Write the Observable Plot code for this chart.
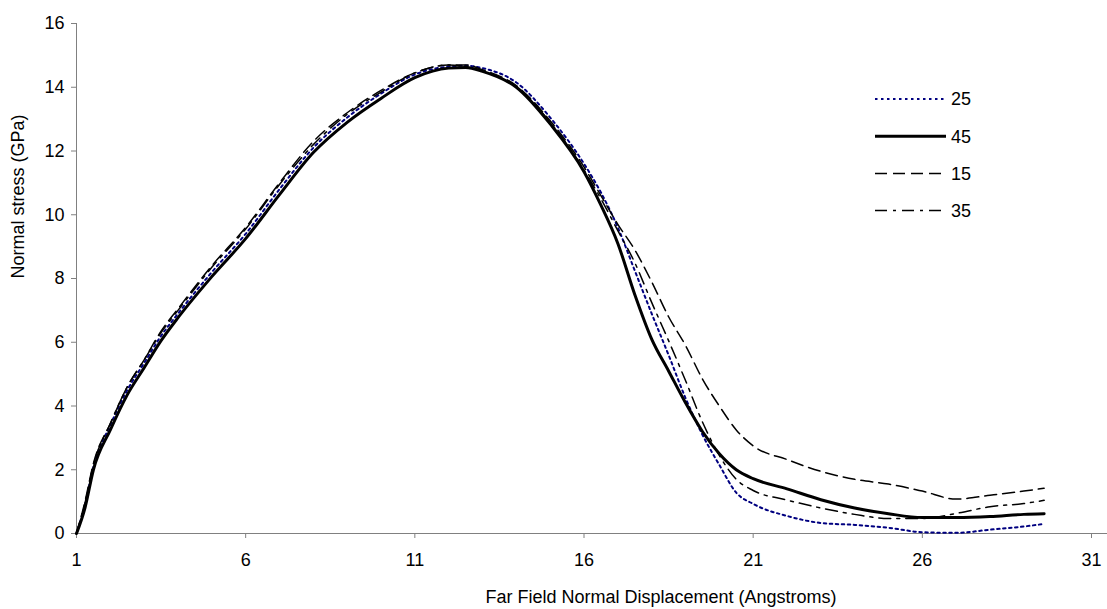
<!DOCTYPE html>
<html>
<head>
<meta charset="utf-8">
<script src="https://cdn.jsdelivr.net/npm/d3@7"></script>
<script src="https://cdn.jsdelivr.net/npm/@observablehq/plot@0.6"></script>
<style>
  html, body { margin: 0; padding: 0; background: white; }
  #wrap { position: relative; width: 1107px; height: 609px; font-family: "Liberation Sans", Arial, sans-serif; }
  #legend { position: absolute; left: 0; top: 0; }
</style>
</head>
<body>
<div id="wrap"></div>
<script>
// Far field normal displacement (Angstroms)
const disp = [1, 1.25, 1.5, 2, 2.5, 3, 3.5, 4, 5, 6, 7, 8, 9, 10, 11, 12, 12.5, 13, 14, 15, 16, 16.5, 17, 17.5, 18, 18.5, 19, 19.5, 20, 20.5, 21, 22, 23, 24, 25, 26, 27, 28, 29, 29.6];
// Normal stress (GPa) per series
const s25 = [0, 0.9, 2.1, 3.4, 4.5, 5.35, 6.2, 6.9, 8.2, 9.4, 10.8, 12.1, 13.05, 13.8, 14.4, 14.65, 14.68, 14.6, 14.15, 13.05, 11.6, 10.7, 9.6, 8.25, 6.9, 5.6, 4.25, 3.1, 2.15, 1.28, 0.93, 0.55, 0.33, 0.27, 0.18, 0.04, 0.02, 0.12, 0.22, 0.3];
const s45 = [0, 0.8, 2.0, 3.25, 4.35, 5.2, 6.05, 6.77, 8.06, 9.25, 10.63, 11.95, 12.9, 13.65, 14.3, 14.6, 14.62, 14.5, 14.0, 12.85, 11.35, 10.3, 9.1, 7.5, 6.1, 5.1, 4.1, 3.2, 2.5, 2.0, 1.72, 1.4, 1.06, 0.8, 0.62, 0.5, 0.5, 0.53, 0.6, 0.62];
const s15 = [0, 1.0, 2.2, 3.45, 4.6, 5.45, 6.35, 7.05, 8.4, 9.6, 11.0, 12.3, 13.2, 13.9, 14.45, 14.7, 14.7, 14.55, 14.05, 12.95, 11.5, 10.6, 9.7, 8.9, 7.9, 6.8, 5.9, 4.85, 4.0, 3.25, 2.75, 2.32, 1.95, 1.7, 1.55, 1.33, 1.08, 1.2, 1.33, 1.42];
const s35 = [0, 0.95, 2.15, 3.45, 4.6, 5.45, 6.3, 7.0, 8.35, 9.55, 10.95, 12.2, 13.15, 13.85, 14.45, 14.7, 14.65, 14.5, 14.0, 12.9, 11.4, 10.5, 9.5, 8.5, 7.25, 6.05, 4.8, 3.5, 2.45, 1.7, 1.35, 1.05, 0.8, 0.6, 0.47, 0.47, 0.63, 0.84, 0.94, 1.04];

const seriesNames = ["25", "45", "15", "35"];
const seriesValues = [s25, s45, s15, s35];
const xTicks = [1, 6, 11, 16, 21, 26, 31];
const yTicks = [0, 2, 4, 6, 8, 10, 12, 14, 16];

const FONT = "'Liberation Sans', Arial, sans-serif";
const styles = {
  "25": {stroke: "#000080", strokeWidth: 2, strokeDasharray: "2.5,3.5"},
  "45": {stroke: "black", strokeWidth: 3, strokeDasharray: null},
  "15": {stroke: "black", strokeWidth: 1.5, strokeDasharray: "12,6"},
  "35": {stroke: "black", strokeWidth: 1.5, strokeDasharray: "12,6,3,6"}
};

const tables = seriesNames.map((name, i) => disp.map((x, j) => ({x, y: seriesValues[i][j], name})));

const lineMarks = seriesNames.map((name, i) => Plot.line(tables[i], {
  x: "x", y: "y", curve: "monotone-x",
  stroke: styles[name].stroke,
  strokeWidth: styles[name].strokeWidth,
  strokeDasharray: styles[name].strokeDasharray,
  strokeLinejoin: "round"
}));

const chart = Plot.plot({
  width: 1107,
  height: 609,
  marginLeft: 76,
  marginRight: 16,
  marginTop: 23,
  marginBottom: 76,
  style: {fontFamily: FONT, fontSize: "18px", color: "black", background: "white"},
  x: {domain: [1, 31], label: null},
  y: {domain: [0, 16], label: null},
  marks: [
    Plot.axisX({ticks: xTicks, tickSize: 5, tickPadding: 15, stroke: "#808080", fill: "black", fontSize: 18, label: null}),
    Plot.axisY({ticks: yTicks, tickSize: 5, tickPadding: 7, stroke: "#808080", fill: "black", fontSize: 18, label: null}),
    Plot.ruleY([0], {x1: 1, x2: 31.5, stroke: "#808080"}),
    Plot.ruleX([1], {y1: 0, y2: 16, stroke: "#808080"}),
    ...lineMarks,
    Plot.text(["Far Field Normal Displacement (Angstroms)"], {frameAnchor: "bottom", dx: 77, dy: 69, fontSize: 18, fill: "black"}),
    Plot.text(["Normal stress (GPa)"], {frameAnchor: "left", dx: -58, rotate: -90, fontSize: 18, fill: "black"})
  ]
});

const wrap = document.getElementById("wrap");
wrap.appendChild(chart);

// Legend overlay
const leg = d3.select(wrap).append("svg")
  .attr("id", "legend")
  .attr("width", 1107).attr("height", 609)
  .style("pointer-events", "none");
seriesNames.forEach((name, i) => {
  const yy = 99 + i * 37.2;
  const st = styles[name];
  leg.append("line")
    .attr("x1", 875).attr("x2", 946).attr("y1", yy).attr("y2", yy)
    .attr("stroke", st.stroke).attr("stroke-width", st.strokeWidth)
    .attr("stroke-dasharray", st.strokeDasharray);
  leg.append("text")
    .attr("x", 951).attr("y", yy).attr("dy", "0.35em")
    .attr("font-size", 18).attr("font-family", FONT)
    .attr("fill", "black")
    .text(name);
});
</script>
</body>
</html>
